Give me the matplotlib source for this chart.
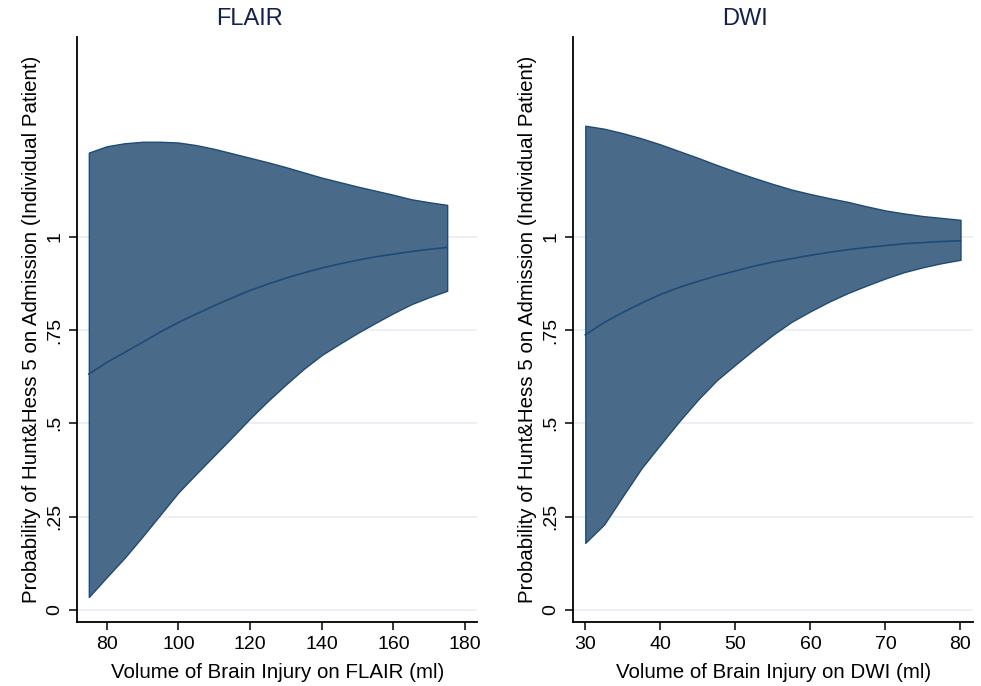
import matplotlib.pyplot as plt

plt.rcParams['font.family'] = ['Liberation Sans', 'DejaVu Sans']

# FLAIR panel (volume in ml)
flair_vol = [75, 80, 85, 90, 95, 100, 105, 110, 115, 120, 125,
             130, 135, 140, 145, 150, 155, 160, 165, 170, 175]
flair_prob = [0.632, 0.663, 0.690, 0.717, 0.745, 0.770, 0.793, 0.815, 0.836, 0.856, 0.873,
              0.889, 0.903, 0.916, 0.927, 0.937, 0.946, 0.953, 0.960, 0.966, 0.971]
flair_upper = [1.225, 1.242, 1.250, 1.254, 1.254, 1.252, 1.245, 1.235, 1.223, 1.211, 1.199,
               1.186, 1.172, 1.158, 1.146, 1.134, 1.123, 1.112, 1.100, 1.092, 1.085]
flair_lower = [0.035, 0.088, 0.140, 0.197, 0.256, 0.315, 0.365, 0.414, 0.463, 0.513, 0.560,
               0.604, 0.646, 0.683, 0.713, 0.742, 0.769, 0.795, 0.819, 0.838, 0.855]

# DWI panel (volume in ml)
dwi_vol = [30, 32.5, 35, 37.5, 40, 42.5, 45, 47.5, 50, 52.5, 55,
           57.5, 60, 62.5, 65, 67.5, 70, 72.5, 75, 77.5, 80]
dwi_prob = [0.737, 0.770, 0.797, 0.822, 0.845, 0.864, 0.880, 0.895, 0.908, 0.921, 0.932,
            0.941, 0.950, 0.958, 0.965, 0.971, 0.976, 0.981, 0.984, 0.987, 0.989]
dwi_upper = [1.297, 1.289, 1.277, 1.263, 1.247, 1.229, 1.211, 1.192, 1.174, 1.157, 1.141,
             1.126, 1.114, 1.103, 1.093, 1.081, 1.070, 1.062, 1.055, 1.050, 1.045]
dwi_lower = [0.180, 0.229, 0.305, 0.380, 0.443, 0.505, 0.563, 0.615, 0.657, 0.698, 0.737,
             0.772, 0.800, 0.826, 0.849, 0.869, 0.888, 0.905, 0.918, 0.929, 0.938]

y_ticks = [0, 0.25, 0.5, 0.75, 1]
y_labels = ['0', '.25', '.5', '.75', '1']

FILL = '#4a6a8a'
EDGE = '#1d4b78'
TITLE_COLOR = '#13204d'
YLABEL = 'Probability of Hunt&Hess 5 on Admission (Individual Patient)'


def draw_panel(ax, vol, prob, lower, upper, xlim, xticks, xlabel):
    ax.fill_between(vol, lower, upper, facecolor=FILL, edgecolor=EDGE, linewidth=1.0, zorder=2)
    ax.plot(vol, prob, color=EDGE, linewidth=1.2, zorder=3)
    ax.set_xlim(*xlim)
    ax.set_ylim(-0.032, 1.535)
    ax.set_xticks(xticks)
    ax.set_yticks(y_ticks)
    ax.set_yticklabels(y_labels, rotation=90, va='center')
    ax.grid(axis='y', color='#e6eef3', linewidth=1.2, zorder=0)
    ax.set_axisbelow(True)
    for side in ['top', 'right']:
        ax.spines[side].set_visible(False)
    for side in ['left', 'bottom']:
        ax.spines[side].set_linewidth(1.3)
    ax.tick_params(length=6, width=1.1, labelsize=14, pad=4)
    ax.set_xlabel(xlabel, fontsize=14.8, labelpad=7)
    ax.set_ylabel(YLABEL, fontsize=14.8, labelpad=4)


fig = plt.figure(figsize=(9.81, 6.86), dpi=100)
ax1 = fig.add_axes([0.0785, 0.0933, 0.408, 0.853])
ax2 = fig.add_axes([0.5844, 0.0933, 0.4077, 0.853])

draw_panel(ax1, flair_vol, flair_prob, flair_lower, flair_upper,
           (71.7, 183.4), [80, 100, 120, 140, 160, 180],
           'Volume of Brain Injury on FLAIR (ml)')
draw_panel(ax2, dwi_vol, dwi_prob, dwi_lower, dwi_upper,
           (28.4, 81.7), [30, 40, 50, 60, 70, 80],
           'Volume of Brain Injury on DWI (ml)')

fig.text(250 / 981, 1 - 19 / 686, 'FLAIR', ha='center', va='center', fontsize=17, color=TITLE_COLOR)
fig.text(745 / 981, 1 - 19 / 686, 'DWI', ha='center', va='center', fontsize=17, color=TITLE_COLOR)

fig.savefig('out.png', dpi=100)
